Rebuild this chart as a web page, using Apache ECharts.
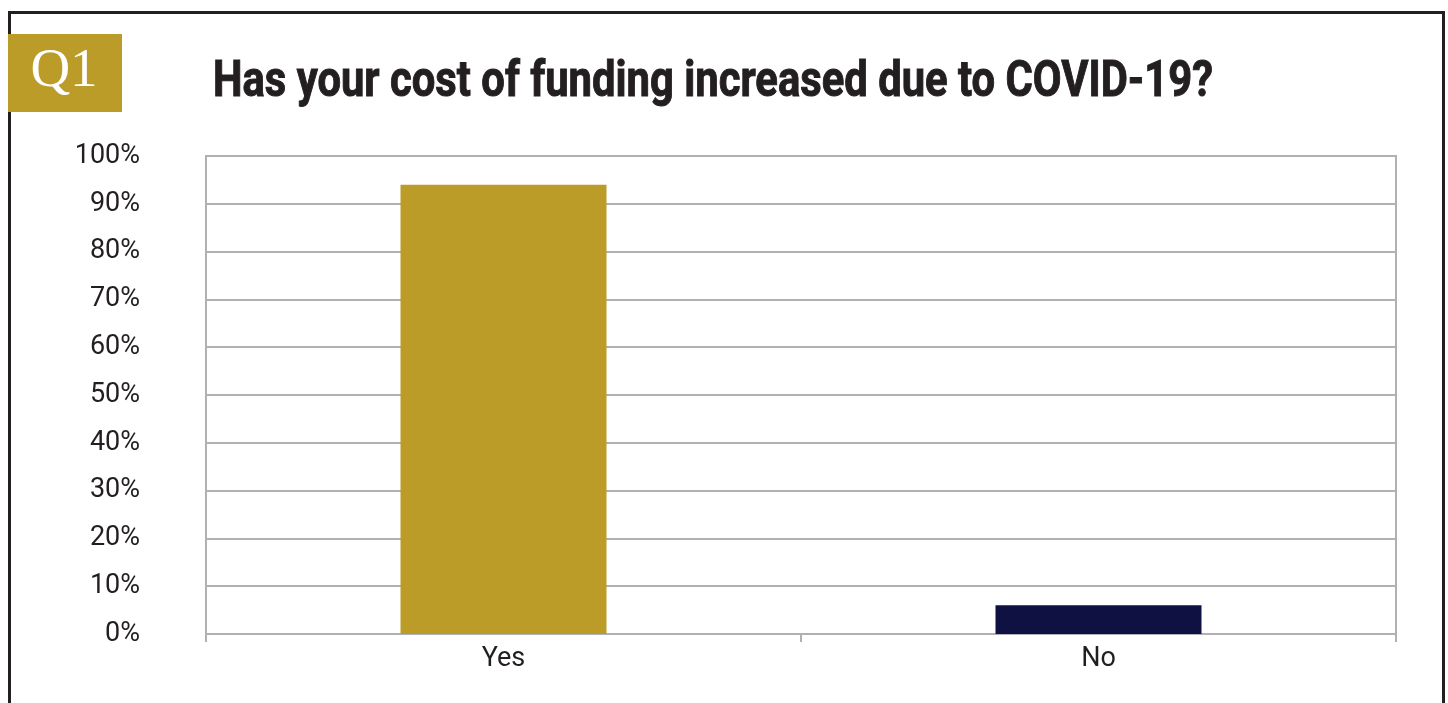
<!DOCTYPE html>
<html>
<head>
<meta charset="utf-8">
<script src="https://cdn.jsdelivr.net/npm/echarts@6/dist/echarts.min.js"></script>
<style>
  html, body { margin: 0; padding: 0; background: #fff; }
  #chart { width: 1448px; height: 703px; }
</style>
</head>
<body>
<div id="chart"></div>
<script>
// Survey answers and their share of respondents (%)
const categories = ['Yes', 'No'];
const shares = [94, 6];
const barColors = ['#BB9C29', '#0F1143'];
const questionTag = 'Q1';
const questionText = 'Has your cost of funding increased due to COVID-19?';

const sansFont = 'Roboto';
const titleFont = 'bold 50px Roboto';

// Narrow the bold headline to a condensed width
const ctx = document.createElement('canvas').getContext('2d');
ctx.font = titleFont;
const titleWidth = 1000;
const titleScale = titleWidth / ctx.measureText(questionText).width;

const chart = echarts.init(document.getElementById('chart'));

chart.setOption({
  animation: false,
  backgroundColor: '#ffffff',
  graphic: [
    {
      type: 'rect',
      shape: { x: 9.5, y: 12.5, width: 1434, height: 720 },
      style: { fill: 'none', stroke: '#231F20', lineWidth: 3 },
      silent: true
    },
    {
      type: 'rect',
      shape: { x: 8, y: 34, width: 114, height: 78 },
      style: { fill: '#BB9C29' },
      silent: true
    },
    {
      type: 'text',
      x: 64,
      y: 72,
      style: {
        text: questionTag,
        fill: '#ffffff',
        font: '55px "Liberation Serif"',
        align: 'center',
        verticalAlign: 'middle'
      },
      silent: true
    },
    {
      type: 'text',
      x: 213,
      y: 83,
      scaleX: titleScale,
      style: {
        text: questionText,
        fill: '#231F20',
        stroke: '#231F20',
        lineWidth: 1,
        font: titleFont,
        align: 'left',
        verticalAlign: 'middle'
      },
      silent: true
    }
  ],
  grid: {
    left: 206,
    right: 52,
    top: 156,
    bottom: 69,
    show: true,
    borderColor: '#B1B1B5',
    borderWidth: 2
  },
  xAxis: {
    type: 'category',
    data: categories,
    axisLine: { show: true, lineStyle: { color: '#B1B1B5', width: 2 } },
    axisTick: { show: true, length: 8, alignWithLabel: false, lineStyle: { color: '#B1B1B5', width: 2 } },
    axisLabel: {
      margin: 12,
      fontFamily: sansFont,
      fontSize: 27,
      color: '#231F20'
    }
  },
  yAxis: {
    type: 'value',
    min: 0,
    max: 100,
    interval: 10,
    axisLine: { show: true, lineStyle: { color: '#B1B1B5', width: 2 } },
    axisTick: { show: false },
    splitLine: { lineStyle: { color: '#B1B1B5', width: 2 } },
    axisLabel: {
      formatter: '{value}%',
      margin: 66,
      fontFamily: sansFont,
      fontSize: 27,
      color: '#231F20'
    }
  },
  series: [{
    type: 'bar',
    barWidth: 206,
    data: shares.map((v, i) => ({ value: v, itemStyle: { color: barColors[i] } }))
  }]
});
</script>
</body>
</html>
